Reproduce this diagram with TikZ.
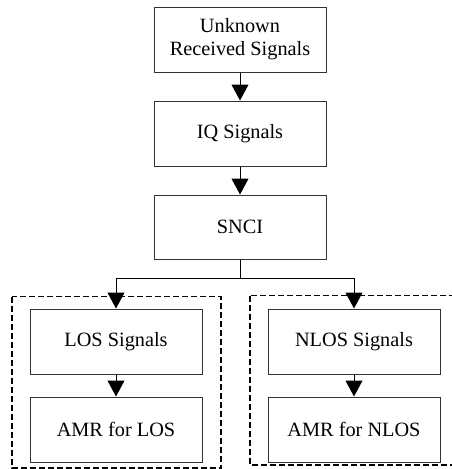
\documentclass[tikz,border=0pt]{standalone}
\usepackage{fontspec}
\setmainfont{Liberation Serif}
\usetikzlibrary{arrows.meta}
\begin{document}
\begin{tikzpicture}[x=1pt,y=1pt,
  blockbox/.style={draw=black!80, line width=1pt, minimum width=172pt, minimum height=65pt,
    inner sep=0pt, align=center, font=\fontsize{20.3}{23}\selectfont},
  conn/.style={line width=1pt, -{Triangle[length=16pt,width=17pt]}},
  groupbox/.style={draw=black, line width=1.5pt, dash pattern=on 6pt off 3pt}]
\useasboundingbox (0,0) rectangle (452,-469);
\node[blockbox] (unk) at (240,-39.5) {Unknown\\Received Signals};
\node[blockbox] (iq) at (240,-133.5) {IQ Signals};
\node[blockbox, minimum height=64pt] (snci) at (240,-227) {SNCI};
\node[blockbox] (los) at (116,-341.5) {LOS Signals};
\node[blockbox] (amrl) at (116,-429.5) {AMR for LOS};
\node[blockbox] (nlos) at (354,-341.5) {NLOS Signals};
\node[blockbox] (amrn) at (354,-429.5) {AMR for NLOS};
\draw[groupbox] (12,-296.5) rectangle (221,-468);
\draw[groupbox] (250,-295.5) rectangle (462,-465);
\coordinate (jn) at (240,-278);
\draw[conn] (unk) -- (iq);
\draw[conn] (iq) -- (snci);
\draw[line width=1pt] (snci.south) -- (jn);
\draw[conn] (jn) -| (los.north);
\draw[conn] (jn) -| (nlos.north);
\draw[conn] (los) -- (amrl);
\draw[conn] (nlos) -- (amrn);
\end{tikzpicture}
\end{document}
